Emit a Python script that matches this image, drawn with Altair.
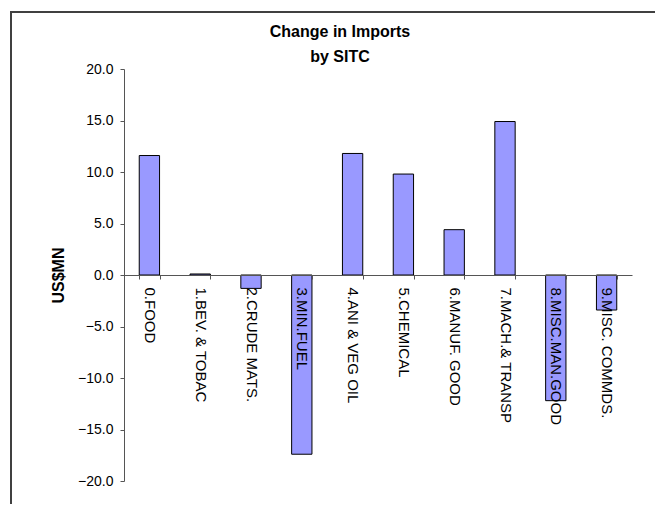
import altair as alt
import pandas as pd

categories = ["0.FOOD", "1.BEV. & TOBAC", "2.CRUDE MATS.", "3.MIN.FUEL",
              "4.ANI & VEG OIL", "5.CHEMICAL", "6.MANUF. GOOD",
              "7.MACH.& TRANSP", "8.MISC.MAN.GOOD", "9.MISC. COMMDS."]
values = [11.6, 0.1, -1.3, -17.4, 11.8, 9.8, 4.4, 14.9, -12.2, -3.4]
y_ticks = [-20, -15, -10, -5, 0, 5, 10, 15, 20]
title_lines = ["Change in Imports", "by SITC"]
y_title = "US$MN"

df = pd.DataFrame({"cat": categories, "val": values})

W, H = 508, 412
FONT = "Liberation Sans"

x_enc = alt.X(
    "cat:N", sort=categories, title=None,
    scale=alt.Scale(paddingInner=0.6, paddingOuter=0.3),
    axis=alt.Axis(
        orient="bottom", offset=-H / 2, labelAngle=90, labelAlign="left",
        labelBaseline="middle", labelFontSize=15, labelFont=FONT,
        labelColor="black", labelPadding=8, tickBand="extent", tickSize=4,
        tickColor="#555555", domainColor="#555555", labelOverlap=False,
        labelLimit=300, zindex=2,
    ),
)

y_enc = alt.Y(
    "val:Q", title=y_title,
    scale=alt.Scale(domain=[-20, 20], nice=False),
    axis=alt.Axis(
        values=y_ticks, format=".1f", labelFontSize=14, labelFont=FONT,
        labelColor="black", tickSize=4, tickColor="#555555",
        domainColor="#555555", grid=False, labelPadding=7,
        titleFont=FONT, titleFontSize=16, titleFontWeight="bold",
        titleColor="black", titleX=-66, titleY=H / 2, titleAngle=-90,
        titleAlign="center", titleBaseline="middle", zindex=2,
    ),
)

bars = alt.Chart(df).mark_bar(
    color="#9999FF", stroke="black", strokeWidth=1
).encode(x=x_enc, y=y_enc)

frame = alt.Chart(df).mark_rect(
    fill=None, stroke="#404040", strokeWidth=2
).encode(
    x=alt.value(-113), x2=alt.value(700),
    y=alt.value(-57), y2=alt.value(600),
)

chart = alt.layer(frame, bars).properties(
    width=W, height=H,
    autosize=alt.AutoSizeParams(type="none"),
    padding={"left": 116, "top": 61, "right": 23, "bottom": 23},
    title=alt.TitleParams(
        text=title_lines, font=FONT, fontSize=16, fontWeight="bold",
        color="black", lineHeight=25, anchor="middle", dx=-38, offset=0,
        dy=54,
    ),
).configure_view(stroke=None)

chart.save("out.html", embed_options={"renderer": "svg", "actions": False})
